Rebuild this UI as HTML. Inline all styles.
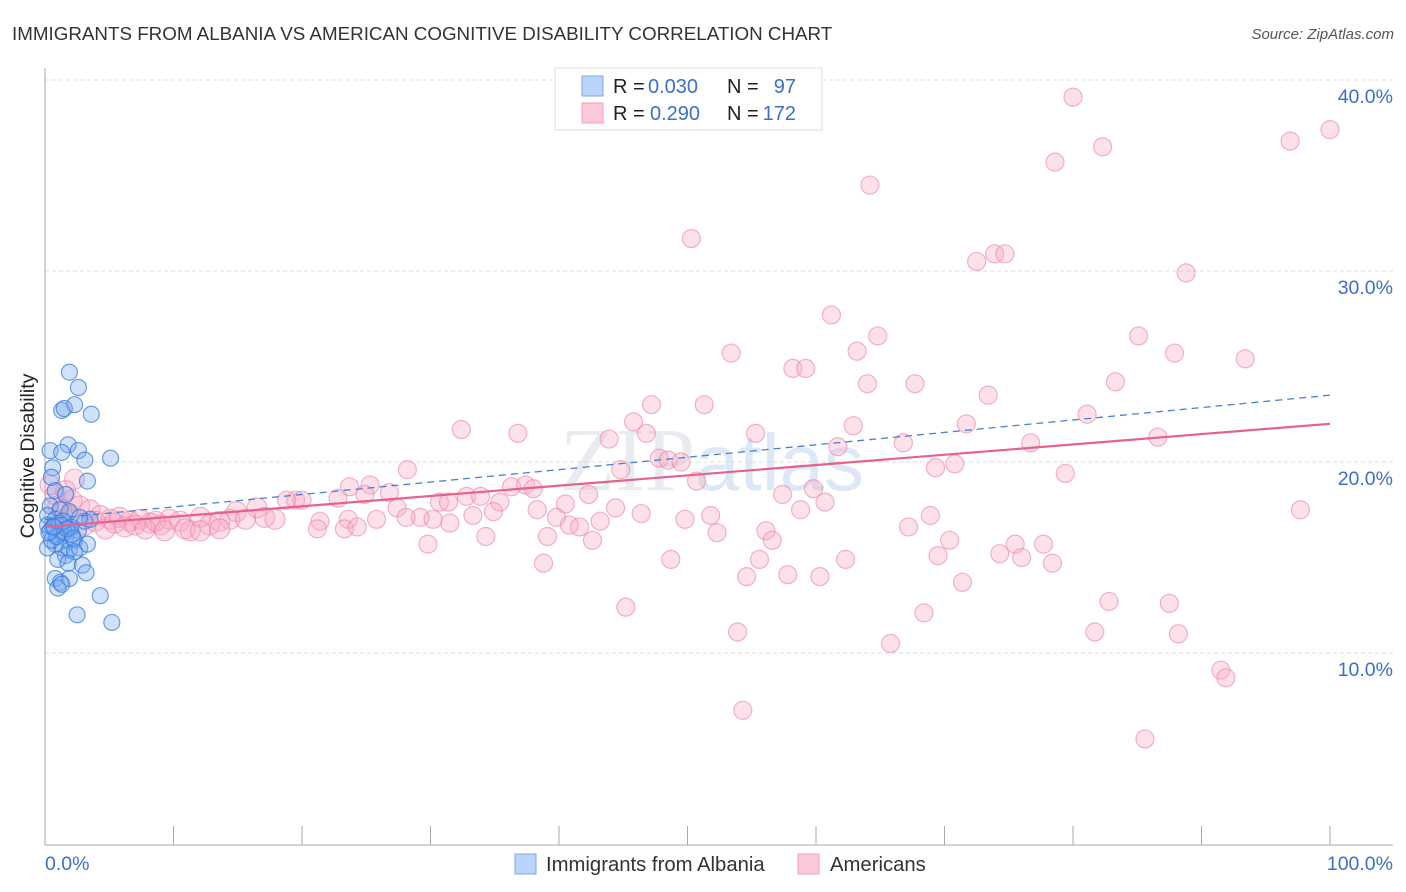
<!DOCTYPE html>
<html><head><meta charset="utf-8"><style>
body{margin:0;background:#fff;font-family:"Liberation Sans",sans-serif;}
#wrap{position:relative;width:1406px;height:892px;overflow:hidden;}
</style></head><body>
<div id="wrap">
<svg id="svg" width="1406" height="892" xmlns="http://www.w3.org/2000/svg">
<text x="12" y="40" font-size="18.8" fill="#333">IMMIGRANTS FROM ALBANIA VS AMERICAN COGNITIVE DISABILITY CORRELATION CHART</text>
<text x="1394" y="39" font-size="15" fill="#555" font-style="italic" text-anchor="end">Source: ZipAtlas.com</text>
<text x="560" y="490" font-size="90" fill="#e8ebf0" font-family="Liberation Serif,serif">ZIP<tspan fill="#dce8f6" font-family="Liberation Sans,sans-serif" font-size="80">atlas</tspan></text>
<text transform="translate(34,456) rotate(-90)" font-size="19.5" fill="#222" text-anchor="middle">Cognitive Disability</text>
<g id="grid"></g><g id="pts"></g><g id="lines"></g>
<g>
<rect x="555" y="68" width="267" height="62" fill="#fff" stroke="#ddd"/>
<rect x="582" y="76" width="21" height="20" fill="#b8d4f8" stroke="#7eaae8"/>
<rect x="582" y="103" width="21" height="20" fill="#fac8d8" stroke="#f0a0b8"/>
<g font-size="20" fill="#222">
<text x="613" y="93">R =</text>
<text x="648" y="93" fill="#3a6fd0">0.030</text>
<text x="727" y="93">N =</text>
<text x="796" y="93" fill="#3a6fd0" text-anchor="end">97</text>
<text x="613" y="120">R =</text>
<text x="650" y="120" fill="#3a6fd0">0.290</text>
<text x="727" y="120">N =</text>
<text x="796" y="120" fill="#3a6fd0" text-anchor="end">172</text>
</g>
</g>
<g>
<rect x="515" y="854" width="21" height="20" fill="#b8d4f8" stroke="#7eaae8"/>
<text x="546" y="871" font-size="20.3" fill="#333">Immigrants from Albania</text>
<rect x="798" y="854" width="21" height="20" fill="#fac8d8" stroke="#f0a0b8"/>
<text x="830" y="871" font-size="20.3" fill="#333">Americans</text>
</g>
</svg></div>
<script>
const yTicks=[10,20,30,40];
const yTickLabels=["10.0%","20.0%","30.0%","40.0%"];
const xTickLabels=["0.0%","100.0%"];
const blueX=[1.9,2.6,2.3,1.3,1.5,3.6,1.8,2.6,0.4,1.3,3.1,5.1,0.6,0.5,3.3,0.8,1.6,0.4,1.2,1.9,0.2,0.8,1.3,1.9,2.6,3.1,0.4,1.0,1.6,2.3,0.8,1.3,1.9,2.7,0.2,3.3,1.6,2.3,1.0,1.8,2.9,3.2,0.8,1.2,1.9,1.0,1.3,4.3,2.5,5.2,0.5,0.2,2.1,1.2,3.5,2.7,0.6,1.1,1.5,2.0,0.9,1.4,1.7,2.2,0.3,0.7];
const blueY=[24.7,23.9,23.0,22.7,22.8,22.5,20.9,20.6,20.6,20.5,20.1,20.2,19.7,19.2,19.0,18.5,18.3,17.7,17.5,17.4,17.2,17.0,16.7,16.5,16.4,16.9,16.4,16.2,16.0,15.9,15.7,15.5,15.4,15.5,15.5,15.7,15.1,15.3,14.9,14.7,14.6,14.2,13.9,13.7,13.9,13.4,13.6,13.0,12.0,11.6,15.9,16.7,16.2,16.4,17.0,17.1,16.6,16.8,16.3,16.6,16.1,16.9,16.5,16.0,16.3,16.6];
const pinkX=[80.0,100,96.9,82.3,78.6,64.2,50.3,73.9,74.7,72.5,88.8,61.2,64.8,85.1,53.4,63.2,87.9,93.4,58.2,59.2,64.0,67.7,83.3,73.4,47.2,51.3,81.1,45.8,32.4,71.7,62.9,36.8,46.8,55.3,86.6,43.9,66.8,76.7,61.7,47.8,48.5,49.5,70.8,69.3,28.2,44.8,79.4,50.7,36.3,37.4,38.0,25.3,23.7,59.8,26.8,42.3,57.4,22.8,24.9,30.7,31.4,32.8,33.9,35.4,60.7,19.5,20.0,18.8,40.5,44.4,27.4,58.8,97.7,38.3,34.9,16.5,14.9,51.8,68.9,46.4,49.8,39.8,40.8,43.2,29.2,28.1,33.3,25.8,23.6,21.4,31.5,30.2,41.6,52.3,56.1,67.2,39.1,34.3,23.3,24.3,21.2,42.6,56.6,70.4,29.8,75.5,77.7,74.3,69.5,76.0,48.7,55.6,62.3,38.8,78.4,54.6,57.8,60.3,71.4,82.8,87.5,45.2,68.4,81.7,88.2,53.9,65.8,91.5,91.9,54.3,85.6,0.8,1.6,2.1,2.7,3.5,4.3,5.1,5.8,6.6,7.4,8.2,9.0,9.7,10.5,11.3,12.1,12.8,13.6,14.4,15.6,17.1,17.9,1.2,1.9,3.1,3.9,4.7,5.4,6.2,7.0,7.8,8.6,9.3,10.9,12.1,13.6,1.0,2.3,0.4,1.3];
const pinkY=[39.1,37.4,36.8,36.5,35.7,34.5,31.7,30.9,30.9,30.5,29.9,27.7,26.6,26.6,25.7,25.8,25.7,25.4,24.9,24.9,24.1,24.1,24.2,23.5,23.0,23.0,22.5,22.1,21.7,22.0,21.9,21.5,21.5,21.5,21.3,21.2,21.0,21.0,20.8,20.2,20.1,20.0,19.9,19.7,19.6,19.6,19.4,19.0,18.7,18.8,18.6,18.8,18.7,18.6,18.4,18.3,18.3,18.1,18.3,17.9,17.9,18.2,18.2,17.9,17.9,18.0,18.0,18.0,17.8,17.6,17.6,17.5,17.5,17.5,17.4,17.6,17.4,17.2,17.2,17.3,17.0,17.1,16.7,16.9,17.1,17.1,17.2,17.0,17.0,16.9,16.8,17.0,16.6,16.3,16.4,16.6,16.1,16.1,16.5,16.6,16.5,15.9,15.9,15.9,15.7,15.7,15.7,15.2,15.1,15.0,14.9,14.9,14.9,14.7,14.7,14.0,14.1,14.0,13.7,12.7,12.6,12.4,12.1,11.1,11.0,11.1,10.5,9.1,8.7,7.0,5.5,18.3,18.5,18.0,17.7,17.5,17.2,17.0,17.1,16.9,17.0,16.8,16.7,17.0,16.9,16.4,17.1,16.7,16.9,17.0,17.0,17.1,17.0,17.0,17.2,16.7,16.9,16.5,16.8,16.6,16.7,16.5,16.9,16.4,16.5,16.4,16.5,17.7,19.1,18.8,17.5];
const blueTrend=[17.0,23.5];
const pinkTrend=[16.6,22.0];
const X=v=>45+v*12.85, Y=v=>844-v*19.1;
const NS="http://www.w3.org/2000/svg";
function mk(tag,attrs,parent){const e=document.createElementNS(NS,tag);for(const k in attrs)e.setAttribute(k,attrs[k]);parent.appendChild(e);return e;}
const grid=document.getElementById('grid');
yTicks.forEach((t,i)=>{
 const l=mk('line',{x1:45,x2:1393,y1:Y(t),y2:Y(t),stroke:'#ddd','stroke-dasharray':'4,3'},grid);
 
 
 const tx=mk('text',{x:1393,y:Y(t)+23,'font-size':19.5,fill:'#3a6fd0','text-anchor':'end'},grid);
 tx.textContent=yTickLabels[i];
 
 
});
const ax=mk('line',{x1:45,x2:45,y1:68,y2:845,stroke:'#aaa'},grid);


const bx=mk('line',{x1:45,x2:1393,y1:845,y2:845,stroke:'#aaa'},grid);


for(let i=1;i<=10;i++){const t=mk('line',{x1:X(i*10),x2:X(i*10),y1:826,y2:845,stroke:'#aaa'},grid);
 
 }
[[0,'start',45],[1,'end',1393]].forEach(([i,a,x])=>{const t=mk('text',{x:x,y:870,'font-size':19.5,fill:'#3a6fd0','text-anchor':a},grid);t.textContent=xTickLabels[i];
 
 });
const pts=document.getElementById('pts');
pinkX.forEach((x,i)=>{const c=mk('circle',{cx:X(x),cy:Y(pinkY[i]),r:x<18?10:9,fill:'rgba(248,170,195,0.35)',stroke:'rgba(235,130,165,0.6)','stroke-width':1.2},pts);
 
 });
blueX.forEach((x,i)=>{const c=mk('circle',{cx:X(x),cy:Y(blueY[i]),r:8,fill:'rgba(120,170,240,0.35)',stroke:'rgba(50,120,220,0.7)','stroke-width':1.2},pts);
 
 });
const lines=document.getElementById('lines');
const bl=mk('line',{x1:X(0),y1:Y(blueTrend[0]),x2:X(100),y2:Y(blueTrend[1]),stroke:'#4a7fd8','stroke-width':1.3,'stroke-dasharray':'7,5'},lines);


const pl=mk('line',{x1:X(0),y1:Y(pinkTrend[0]),x2:X(100),y2:Y(pinkTrend[1]),stroke:'#e8608e','stroke-width':2.2},lines);


</script>
</body></html>
